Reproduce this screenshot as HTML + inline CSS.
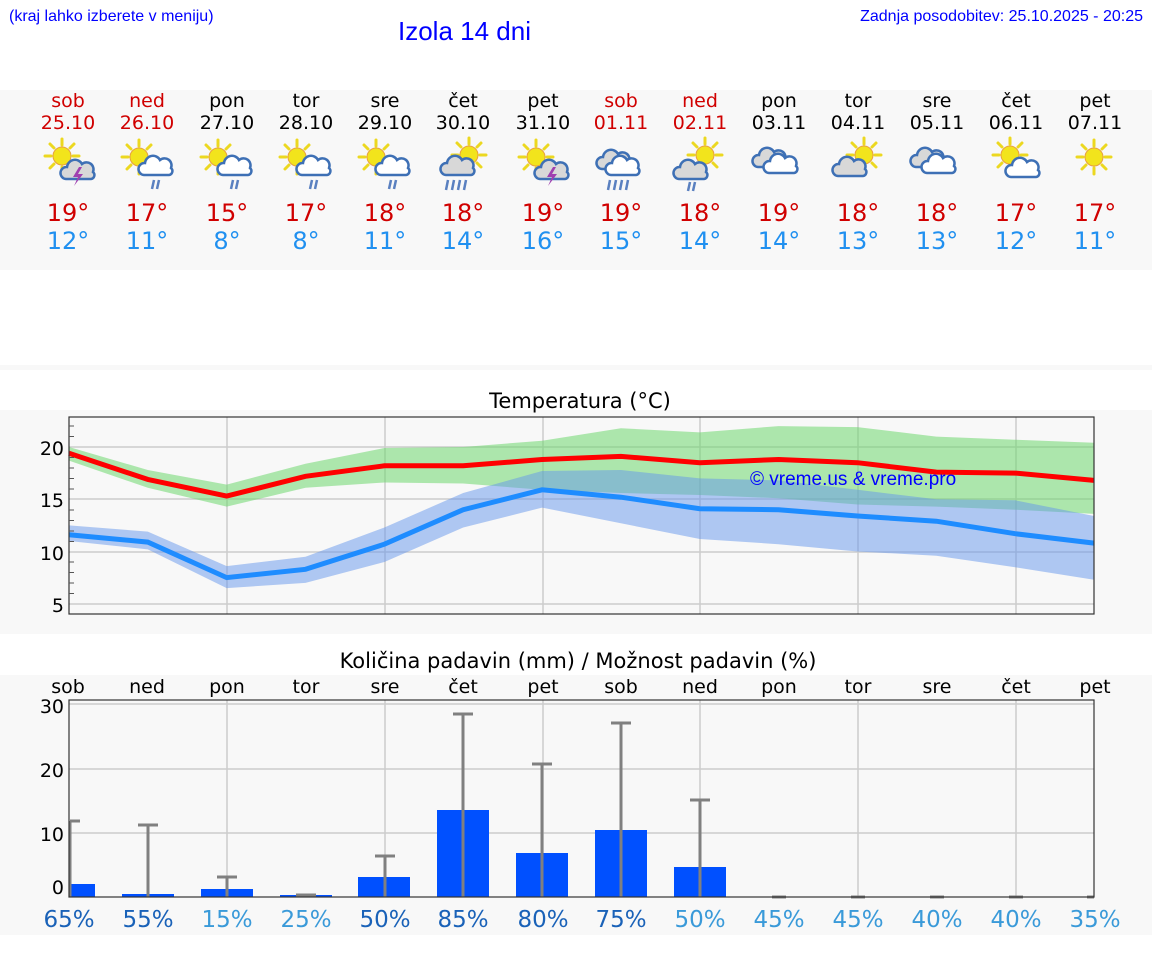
<!DOCTYPE html>
<html><head><meta charset="utf-8"><style>
body{margin:0;background:#fff;width:1152px;height:975px;overflow:hidden}
svg{display:block;font-family:"DejaVu Sans","Liberation Sans",sans-serif}
</style></head><body>
<svg width="1152" height="975" viewBox="0 0 1152 975">
<defs>
<g id="sun"><g stroke="#ecd820" stroke-width="3" stroke-linecap="round">
<line x1="0" y1="-11" x2="0" y2="-17"/><line x1="0" y1="11" x2="0" y2="17"/><line x1="-11" y1="0" x2="-17" y2="0"/><line x1="11" y1="0" x2="17" y2="0"/>
<line x1="8" y1="8" x2="12" y2="12"/><line x1="-8" y1="8" x2="-12" y2="12"/><line x1="8" y1="-8" x2="12" y2="-12"/><line x1="-8" y1="-8" x2="-12" y2="-12"/></g>
<circle r="9" fill="#f2e41c" stroke="#e8a040" stroke-width="1"/></g>
<path id="cw" d="M-14,9 a6,6 0 0 1 1,-12 a8,8 0 0 1 15,-3 a7,7 0 0 1 11,8 a4,4 0 0 1 -2,7 z" fill="#fff" stroke="#3e70b5" stroke-width="2.5"/>
<path id="cg" d="M-14,9 a6,6 0 0 1 1,-12 a8,8 0 0 1 15,-3 a7,7 0 0 1 11,8 a4,4 0 0 1 -2,7 z" fill="#d8d8d8" stroke="#3e70b5" stroke-width="2.5"/>
<g id="rain" stroke="#5a80c0" stroke-width="2.5"><line x1="0" y1="0" x2="-2" y2="9"/><line x1="5" y1="0" x2="3" y2="9"/></g>
<g id="rain4" stroke="#5a80c0" stroke-width="2.5"><line x1="-6" y1="0" x2="-8" y2="10"/><line x1="0" y1="0" x2="-2" y2="10"/><line x1="6" y1="0" x2="4" y2="10"/><line x1="12" y1="0" x2="10" y2="10"/></g>
<path id="bolt" d="M2,-6 L-4,4 L1,4 L-3,13 L6,1 L1,1 L5,-6z" fill="#a040b0"/>
</defs>

<text x="9" y="21" font-family="Liberation Sans" font-size="16" fill="#00f">(kraj lahko izberete v meniju)</text>
<text x="398" y="40" font-family="Liberation Sans" font-size="26" fill="#00f">Izola 14 dni</text>
<text x="1143" y="21" font-family="Liberation Sans" font-size="16" fill="#00f" text-anchor="end">Zadnja posodobitev: 25.10.2025 - 20:25</text>

<rect x="0" y="90" width="1152" height="180" fill="#f8f8f8"/>
<rect x="0" y="365" width="1152" height="5" fill="#f8f8f8"/>
<rect x="0" y="410" width="1152" height="224" fill="#f8f8f8"/>
<rect x="0" y="675" width="1152" height="260" fill="#f8f8f8"/>

<g font-size="19" text-anchor="middle">
<g fill="#d00000"><text x="68" y="107">sob</text><text x="68" y="129">25.10</text><text x="147" y="107">ned</text><text x="147" y="129">26.10</text>
<text x="621" y="107">sob</text><text x="621" y="129">01.11</text><text x="700" y="107">ned</text><text x="700" y="129">02.11</text></g>
<g fill="#000"><text x="227" y="107">pon</text><text x="227" y="129">27.10</text><text x="306" y="107">tor</text><text x="306" y="129">28.10</text>
<text x="385" y="107">sre</text><text x="385" y="129">29.10</text><text x="463" y="107">čet</text><text x="463" y="129">30.10</text>
<text x="543" y="107">pet</text><text x="543" y="129">31.10</text><text x="779" y="107">pon</text><text x="779" y="129">03.11</text>
<text x="858" y="107">tor</text><text x="858" y="129">04.11</text><text x="937" y="107">sre</text><text x="937" y="129">05.11</text>
<text x="1016" y="107">čet</text><text x="1016" y="129">06.11</text><text x="1095" y="107">pet</text><text x="1095" y="129">07.11</text></g>
</g>

<use href="#sun" x="62" y="156"/><use href="#cg" x="80" y="170"/><use href="#bolt" x="77" y="173"/>
<use href="#sun" x="139" y="157"/><use href="#cw" x="158" y="166"/><use href="#rain" x="154" y="180"/>
<use href="#sun" x="218" y="157"/><use href="#cw" x="237" y="166"/><use href="#rain" x="233" y="180"/>
<use href="#sun" x="297" y="157"/><use href="#cw" x="316" y="166"/><use href="#rain" x="312" y="180"/>
<use href="#sun" x="376" y="157"/><use href="#cw" x="395" y="166"/><use href="#rain" x="391" y="180"/>
<use href="#sun" x="469" y="155"/><use href="#cg" x="460" y="166"/><use href="#rain4" x="454" y="180"/>
<use href="#sun" x="536" y="157"/><use href="#cg" x="554" y="170"/><use href="#bolt" x="551" y="173"/>
<use href="#cg" x="616" y="160"/><use href="#cw" x="625" y="166"/><use href="#rain4" x="616" y="180"/>
<use href="#sun" x="705" y="155"/><use href="#cg" x="693" y="170"/><use href="#rain" x="690" y="182"/>
<use href="#cg" x="772" y="158"/><use href="#cw" x="783" y="164"/>
<use href="#sun" x="864" y="155"/><use href="#cg" x="852" y="167"/>
<use href="#cg" x="930" y="158"/><use href="#cw" x="941" y="164"/>
<use href="#sun" x="1010" y="155"/><use href="#cw" x="1025" y="168"/>
<use href="#sun" x="1094" y="157"/>

<g font-size="24" text-anchor="middle">
<g fill="#d00000"><text x="68" y="221">19°</text><text x="147" y="221">17°</text><text x="227" y="221">15°</text><text x="306" y="221">17°</text><text x="385" y="221">18°</text><text x="463" y="221">18°</text><text x="543" y="221">19°</text><text x="621" y="221">19°</text><text x="700" y="221">18°</text><text x="779" y="221">19°</text><text x="858" y="221">18°</text><text x="937" y="221">18°</text><text x="1016" y="221">17°</text><text x="1095" y="221">17°</text></g>
<g fill="#2090f0"><text x="68" y="249">12°</text><text x="147" y="249">11°</text><text x="227" y="249">8°</text><text x="306" y="249">8°</text><text x="385" y="249">11°</text><text x="463" y="249">14°</text><text x="543" y="249">16°</text><text x="621" y="249">15°</text><text x="700" y="249">14°</text><text x="779" y="249">14°</text><text x="858" y="249">13°</text><text x="937" y="249">13°</text><text x="1016" y="249">12°</text><text x="1095" y="249">11°</text></g>
</g>

<text x="580" y="408" font-size="21" text-anchor="middle">Temperatura (°C)</text>
<rect x="69" y="417" width="1025" height="197" fill="#f8f8f8"/>
<g stroke="#ccc" stroke-width="1.5">
<line x1="69" y1="447" x2="1094" y2="447"/><line x1="69" y1="499" x2="1094" y2="499"/><line x1="69" y1="552" x2="1094" y2="552"/><line x1="69" y1="604" x2="1094" y2="604"/>
<line x1="227" y1="417" x2="227" y2="614"/><line x1="385" y1="417" x2="385" y2="614"/><line x1="543" y1="417" x2="543" y2="614"/><line x1="700" y1="417" x2="700" y2="614"/><line x1="858" y1="417" x2="858" y2="614"/><line x1="1016" y1="417" x2="1016" y2="614"/>
</g>
<polygon fill="rgba(110,215,110,0.55)" points="69,447 147.8,470 226.7,484.6 305.5,463.7 384.4,448 463.2,447 542.1,440.7 620.9,428.2 699.8,432.4 778.6,426.1 857.5,427.1 936.3,436.6 1015.2,439.7 1094,442.8 1094,513.9 1015.2,509.7 936.3,506.6 857.5,504.5 778.6,498.2 699.8,495 620.9,493 542.1,489.8 463.2,483.5 384.4,482.5 305.5,487.8 226.7,506.6 147.8,487.8 69,460.6"/>
<polygon fill="rgba(100,150,235,0.5)" points="69,525.4 147.8,531.6 226.7,566.1 305.5,556.7 384.4,527.5 463.2,493 542.1,471 620.9,470 699.8,478.4 778.6,480.4 857.5,489.8 936.3,499.3 1015.2,500.3 1094,516 1094,579.7 1015.2,567.2 936.3,555.7 857.5,551.5 778.6,544.2 699.8,539 620.9,523.3 542.1,507.6 463.2,527.5 384.4,562 305.5,582.9 226.7,588.1 147.8,549.4 69,541"/>
<polyline fill="none" stroke="#1e8cff" stroke-width="5" points="69,534.8 147.8,542.1 226.7,577.6 305.5,569.3 384.4,544.2 463.2,509.7 542.1,489.8 620.9,497.2 699.8,508.7 778.6,509.7 857.5,516 936.3,521.2 1015.2,533.7 1094,543.1"/>
<polyline fill="none" stroke="#f00" stroke-width="5" points="69,453.3 147.8,479.4 226.7,496.1 305.5,476.3 384.4,465.8 463.2,465.8 542.1,459.5 620.9,456.4 699.8,462.7 778.6,459.5 857.5,462.7 936.3,472.1 1015.2,473.1 1094,480.4"/>
<text x="750" y="485" font-family="Liberation Sans" font-size="19" fill="#00f">© vreme.us &amp; vreme.pro</text>
<rect x="69" y="417" width="1025" height="197" fill="none" stroke="#333" stroke-width="1.2"/>
<g stroke="#555" stroke-width="1">
<line x1="69" y1="426" x2="74" y2="426"/><line x1="69" y1="436.5" x2="74" y2="436.5"/><line x1="69" y1="457.5" x2="74" y2="457.5"/><line x1="69" y1="468" x2="74" y2="468"/><line x1="69" y1="478.5" x2="74" y2="478.5"/><line x1="69" y1="489" x2="74" y2="489"/><line x1="69" y1="510" x2="74" y2="510"/><line x1="69" y1="520.5" x2="74" y2="520.5"/><line x1="69" y1="531" x2="74" y2="531"/><line x1="69" y1="541.5" x2="74" y2="541.5"/><line x1="69" y1="562" x2="74" y2="562"/><line x1="69" y1="572.5" x2="74" y2="572.5"/><line x1="69" y1="583" x2="74" y2="583"/><line x1="69" y1="593.5" x2="74" y2="593.5"/>
</g>
<g font-size="19" text-anchor="end" fill="#000"><text x="64" y="455">20</text><text x="64" y="507">15</text><text x="64" y="560">10</text><text x="64" y="612">5</text></g>

<text x="578" y="668" font-size="21" text-anchor="middle">Količina padavin (mm) / Možnost padavin (%)</text>
<g font-size="19" text-anchor="middle" fill="#000">
<text x="68" y="693">sob</text><text x="147" y="693">ned</text><text x="227" y="693">pon</text><text x="306" y="693">tor</text><text x="385" y="693">sre</text><text x="463" y="693">čet</text><text x="543" y="693">pet</text><text x="621" y="693">sob</text><text x="700" y="693">ned</text><text x="779" y="693">pon</text><text x="858" y="693">tor</text><text x="937" y="693">sre</text><text x="1016" y="693">čet</text><text x="1095" y="693">pet</text>
</g>
<rect x="69" y="700" width="1025" height="197" fill="#f8f8f8"/>
<g stroke="#ccc" stroke-width="1.5">
<line x1="69" y1="704" x2="1094" y2="704"/><line x1="69" y1="769" x2="1094" y2="769"/><line x1="69" y1="833" x2="1094" y2="833"/>
<line x1="227" y1="700" x2="227" y2="897"/><line x1="385" y1="700" x2="385" y2="897"/><line x1="543" y1="700" x2="543" y2="897"/><line x1="700" y1="700" x2="700" y2="897"/><line x1="858" y1="700" x2="858" y2="897"/><line x1="1016" y1="700" x2="1016" y2="897"/>
</g>
<g fill="#0050ff">
<rect x="69" y="884" width="26" height="13"/><rect x="122" y="894" width="52" height="3"/><rect x="201" y="889" width="52" height="8"/><rect x="280" y="895" width="52" height="2"/><rect x="358" y="877" width="52" height="20"/><rect x="437" y="810" width="52" height="87"/><rect x="516" y="853" width="52" height="44"/><rect x="595" y="830" width="52" height="67"/><rect x="674" y="867" width="52" height="30"/>
</g>
<g stroke="#808080" stroke-width="3">
<line x1="70" y1="821" x2="70" y2="897"/><line x1="70" y1="821" x2="80" y2="821"/>
<line x1="148" y1="825" x2="148" y2="897"/><line x1="138" y1="825" x2="158" y2="825"/>
<line x1="227" y1="877" x2="227" y2="897"/><line x1="217" y1="877" x2="237" y2="877"/>
<line x1="296" y1="895" x2="316" y2="895"/>
<line x1="385" y1="856" x2="385" y2="897"/><line x1="375" y1="856" x2="395" y2="856"/>
<line x1="463" y1="714" x2="463" y2="897"/><line x1="453" y1="714" x2="473" y2="714"/>
<line x1="542" y1="764" x2="542" y2="897"/><line x1="532" y1="764" x2="552" y2="764"/>
<line x1="621" y1="723" x2="621" y2="897"/><line x1="611" y1="723" x2="631" y2="723"/>
<line x1="700" y1="800" x2="700" y2="897"/><line x1="690" y1="800" x2="710" y2="800"/>
<line x1="772" y1="897" x2="786" y2="897"/><line x1="851" y1="897" x2="865" y2="897"/><line x1="930" y1="897" x2="944" y2="897"/><line x1="1009" y1="897" x2="1023" y2="897"/><line x1="1087" y1="897" x2="1094" y2="897"/>
</g>
<rect x="69" y="700" width="1025" height="197" fill="none" stroke="#333" stroke-width="1.2"/>
<g font-size="19" text-anchor="end" fill="#000"><text x="64" y="713">30</text><text x="64" y="777">20</text><text x="64" y="841">10</text><text x="64" y="894">0</text></g>
<g font-size="23" text-anchor="middle">
<g fill="#1a62b8"><text x="69" y="927">65%</text><text x="148" y="927">55%</text><text x="385" y="927">50%</text><text x="463" y="927">85%</text><text x="543" y="927">80%</text><text x="621" y="927">75%</text></g>
<g fill="#3a9ad9"><text x="227" y="927">15%</text><text x="306" y="927">25%</text><text x="700" y="927">50%</text><text x="779" y="927">45%</text><text x="858" y="927">45%</text><text x="937" y="927">40%</text><text x="1016" y="927">40%</text><text x="1095" y="927">35%</text></g>
</g>
</svg>
</body></html>
